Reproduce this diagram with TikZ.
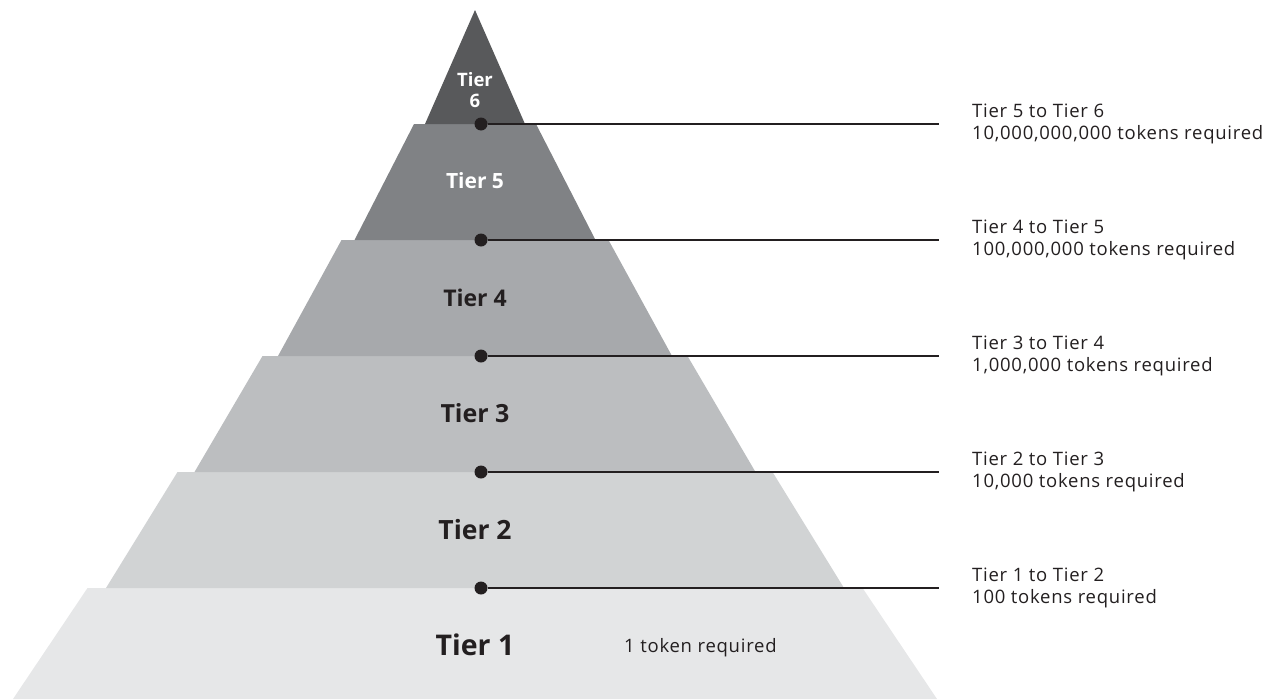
\documentclass[tikz,border=0pt]{standalone}
\usepackage{fontspec}
\setmainfont{Open Sans}
\usetikzlibrary{positioning}
\definecolor{ink}{HTML}{231F20}
\definecolor{grey one}{HTML}{E6E7E8}
\definecolor{grey two}{HTML}{D1D3D4}
\definecolor{grey three}{HTML}{BCBEC0}
\definecolor{grey four}{HTML}{A7A9AC}
\definecolor{grey five}{HTML}{808285}
\definecolor{grey six}{HTML}{58595B}
\tikzset{
    tier label/.style={text=ink, align=center, inner sep=0pt},
    tier label light/.style={tier label, text=white},
    marker dot/.style={circle, fill=ink, inner sep=0pt, minimum size=13pt},
    rule line/.style={draw=ink, line width=1.5pt},
    cost note/.style={text=ink, align=left, inner sep=0pt,
        font=\fontsize{18.5}{22.5}\selectfont\addfontfeature{LetterSpace=4}}
}

\begin{document}
\begin{tikzpicture}[x=1pt, y=-1pt]
	\useasboundingbox (0,0) rectangle (1271,699);
	% pyramid layers, bottom to top
	\fill[grey one]   (87.5,588) -- (862.5,588) -- (937,699) -- (13,699) -- cycle;
	\fill[grey two]   (177.5,472) -- (772.5,472) -- (844,588) -- (106,588) -- cycle;
	\fill[grey three] (262.5,356) -- (687.5,356) -- (755.5,472) -- (194.5,472) -- cycle;
	\fill[grey four]  (341.5,240) -- (608.5,240) -- (672,356) -- (278,356) -- cycle;
	\fill[grey five]  (414,124) -- (536,124) -- (595.5,240) -- (354.5,240) -- cycle;
	\fill[grey six]   (475,10) -- (525,124) -- (425,124) -- cycle;

	\node[tier label, font=\fontsize{28.5}{30}\selectfont\bfseries] (t1) at (475,645) {Tier 1};
	\node[tier label, font=\fontsize{26.5}{28}\selectfont\bfseries] (t2) at (475,530) {Tier 2};
	\node[tier label, font=\fontsize{25}{27}\selectfont\bfseries] (t3) at (475,413) {Tier 3};
	\node[tier label, font=\fontsize{23}{25}\selectfont\bfseries] (t4) at (475,298) {Tier 4};
	\node[tier label light, font=\fontsize{21}{23}\selectfont\bfseries] (t5) at (475,181) {Tier 5};
	\node[tier label light, font=\fontsize{18.5}{21}\selectfont\bfseries] (t6) at (475,90) {Tier\\6};
	\node[cost note, anchor=west] (c1) at (624,648) {1 token required};

	\begin{scope}[every node/.style={marker dot}]
		\node (d1) at (481,588) {};
		\node (d2) at (481,472) {};
		\node (d3) at (481,356) {};
		\node (d4) at (481,240) {};
		\node (d5) at (481,124) {};
	\end{scope}
	\coordinate (e1) at (939,588);
	\coordinate (e2) at (939,472);
	\coordinate (e3) at (939,356);
	\coordinate (e4) at (939,240);
	\coordinate (e5) at (939,124);
	\draw[rule line] (d1) -- (e1);
	\draw[rule line] (d2) -- (e2);
	\draw[rule line] (d3) -- (e3);
	\draw[rule line] (d4) -- (e4);
	\draw[rule line] (d5) -- (e5);

	\node[cost note, right=33pt of e1] (n1) {Tier 1 to Tier 2\\100 tokens required};
	\node[cost note, right=33pt of e2] (n2) {Tier 2 to Tier 3\\10,000 tokens required};
	\node[cost note, right=33pt of e3] (n3) {Tier 3 to Tier 4\\1,000,000 tokens required};
	\node[cost note, right=33pt of e4] (n4) {Tier 4 to Tier 5\\100,000,000 tokens required};
	\node[cost note, right=33pt of e5] (n5) {Tier 5 to Tier 6\\10,000,000,000 tokens required};
\end{tikzpicture}
\end{document}
